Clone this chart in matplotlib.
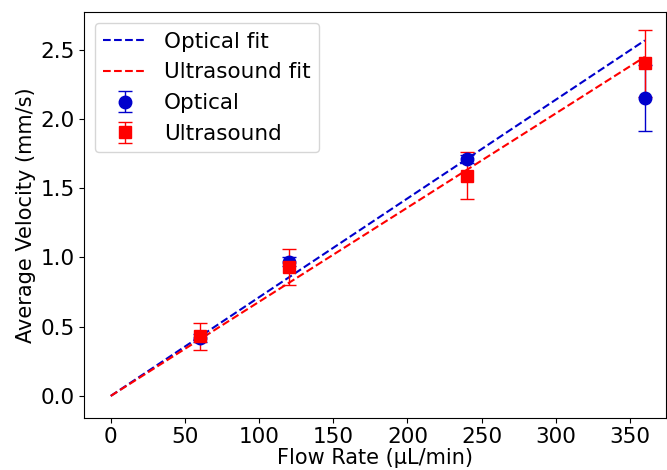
import numpy as np
import matplotlib
matplotlib.use("Agg")
import matplotlib.pyplot as plt

# Data
flow = [60, 120, 240, 360]
optical = [0.42, 0.97, 1.71, 2.15]
optical_err = [0.03, 0.03, 0.03, 0.24]
ultra = [0.43, 0.93, 1.59, 2.40]
ultra_err = [0.10, 0.13, 0.17, 0.24]

# fit slopes (mm/s per uL/min)
opt_slope = 0.00713
ult_slope = 0.00680
fit_x = [0, 360]

plt.rcParams.update({"font.size": 15})

fig = plt.figure(figsize=(6.67, 4.7), dpi=100)
ax = fig.add_axes([0.126, 0.111, 0.872, 0.863])

ax.plot(fit_x, [opt_slope * x for x in fit_x], "--", color="#0000cc", lw=1.5, label="Optical fit")
ax.plot(fit_x, [ult_slope * x for x in fit_x], "--", color="red", lw=1.5, label="Ultrasound fit")
ax.errorbar(flow, optical, yerr=optical_err, fmt="o", color="#0000cc", ms=9,
            capsize=5, elinewidth=1, label="Optical")
ax.errorbar(flow, ultra, yerr=ultra_err, fmt="s", color="red", ms=9,
            capsize=5, elinewidth=1, label="Ultrasound")

ax.set_xlim(-18, 374)
ax.set_ylim(-0.158, 2.77)
ax.set_xticks(np.arange(0, 351, 50))
ax.set_yticks(np.arange(0, 2.51, 0.5))
ax.tick_params(labelsize=15.5, pad=3)
ax.set_xlabel("Flow Rate (µL/min)", labelpad=1)
ax.set_ylabel("Average Velocity (mm/s)", labelpad=3)
ax.legend(loc="upper left", fontsize=15.5)

fig.savefig("out.png", dpi=100)
